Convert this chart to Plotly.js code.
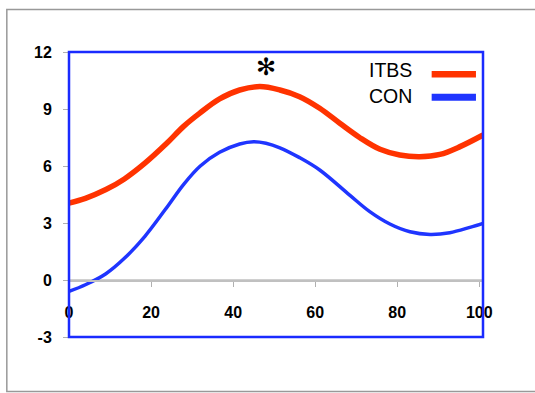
<!DOCTYPE html>
<html><head><meta charset="utf-8">
<script src="https://cdn.plot.ly/plotly-3.0.1.min.js"></script>
<style>html,body{margin:0;padding:0;background:#fff}</style>
</head><body>
<div id="chart" style="width:535px;height:393px"></div>
<script>
const xItbs = [0,4,9,13.5,18.5,23.5,28,31.8,36.7,41.6,46.5,51.4,56.2,61.1,66,70.9,75.8,80.6,85.5,90.4,95.3,100.9];
const itbs = [4.05,4.3,4.76,5.32,6.15,7.13,8.1,8.77,9.53,10.0,10.18,10.0,9.65,9.04,8.25,7.49,6.88,6.58,6.49,6.61,7.02,7.63];
const xCon = [0,4,9,13.5,18.5,23.5,28,32,36.7,41.6,45,48,51.4,56.2,61.1,68.4,73.3,78.2,83.1,88,92.8,97.7,100.9];
const con = [-0.6,-0.25,0.33,1.14,2.3,3.72,5.05,6.0,6.72,7.16,7.28,7.2,6.96,6.44,5.79,4.47,3.6,2.95,2.54,2.4,2.49,2.77,2.98];
const seriesNames = ['ITBS','CON'];
const seriesColors = ['#ff3300','#1f35ff'];
const xTicks = [0,20,40,60,80,100];
const yTicks = [-3,0,3,6,9,12];
const sigMark = {x: 47.95, y: 11.2, text: '✻'};

const traces = [
  {x: xItbs, y: itbs, name: seriesNames[0], mode: 'lines', line: {color: seriesColors[0], width: 5.5, shape: 'spline'}},
  {x: xCon, y: con, name: seriesNames[1], mode: 'lines', line: {color: seriesColors[1], width: 3.5, shape: 'spline'}}
];
const font = {family: 'Liberation Sans, Arial, sans-serif', color: '#000'};
const layout = {
  width: 535, height: 393,
  margin: {l: 69, r: 52, t: 52, b: 56},
  paper_bgcolor: '#fff', plot_bgcolor: '#fff',
  showlegend: false,
  font: font,
  xaxis: {
    range: [0, 100.9], tickvals: xTicks, ticktext: xTicks.map(String),
    showgrid: false, zeroline: false,
    anchor: 'free', position: 0.2,
    showline: true, linecolor: '#c0c0c0', linewidth: 1.5,
    ticks: 'outside', ticklen: 5, tickcolor: '#b0b0b0', tickwidth: 1,
    ticklabelstandoff: 12,
    tickfont: {family: font.family, size: 16, color: '#000', weight: 'bold'}
  },
  yaxis: {
    range: [-3, 12], tickvals: yTicks, ticktext: yTicks.map(String),
    showgrid: false, zeroline: false,
    showline: false,
    ticks: 'outside', ticklen: 5, tickcolor: '#b0b0b0', tickwidth: 1,
    ticklabelstandoff: 8,
    tickfont: {family: font.family, size: 16, color: '#000', weight: 'bold'}
  },
  shapes: [
    {type: 'rect', xref: 'paper', yref: 'paper', x0: -0.1502, x1: 1.3, y0: -0.191, y1: 1.149,
     line: {color: '#999', width: 1.5}, layer: 'below'},
    {type: 'line', xref: 'paper', yref: 'y', x0: 0, x1: 1, y0: 0, y1: 0,
     line: {color: '#c0c0c0', width: 1.5}, layer: 'below'},
    {type: 'rect', xref: 'paper', yref: 'paper', x0: 0, x1: 1, y0: 0, y1: 1,
     line: {color: '#1a2bff', width: 2.5}},
    {type: 'line', xref: 'paper', yref: 'paper', x0: 0.876, x1: 0.983, y0: 0.922, y1: 0.922,
     line: {color: seriesColors[0], width: 6.5}},
    {type: 'line', xref: 'paper', yref: 'paper', x0: 0.876, x1: 0.983, y0: 0.841, y1: 0.841,
     line: {color: seriesColors[1], width: 7}}
  ],
  annotations: [
    {xref: 'paper', yref: 'paper', x: 0.72, y: 0.938, xanchor: 'left', yanchor: 'middle', showarrow: false,
     text: seriesNames[0], font: {family: font.family, size: 19.5, color: '#000'}},
    {xref: 'paper', yref: 'paper', x: 0.72, y: 0.846, xanchor: 'left', yanchor: 'middle', showarrow: false,
     text: seriesNames[1], font: {family: font.family, size: 19.5, color: '#000'}},
    {x: sigMark.x, y: sigMark.y, text: sigMark.text, showarrow: false, xanchor: 'center', yanchor: 'middle',
     font: {family: 'DejaVu Sans', size: 24, color: '#000'}}
  ]
};
Plotly.newPlot('chart', traces, layout, {displayModeBar: false, staticPlot: true});
</script>
</body></html>
